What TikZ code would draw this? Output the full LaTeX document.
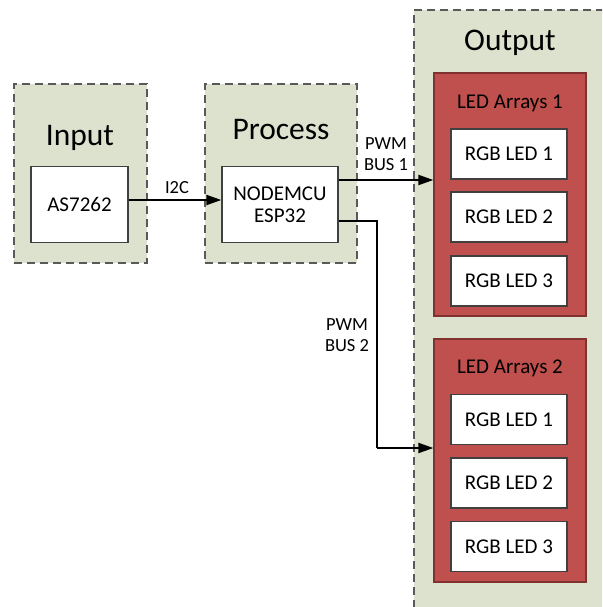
\documentclass[tikz,border=0pt]{standalone}
\usepackage{fontspec}
\setmainfont{Carlito}
\usetikzlibrary{arrows.meta,positioning,calc}
\definecolor{grpfill}{HTML}{DDE2CE}
\definecolor{grpline}{HTML}{595959}
\definecolor{ledred}{HTML}{C0504D}
\definecolor{ledline}{HTML}{7F3230}
\definecolor{boxline}{HTML}{404040}
\tikzset{
  group/.style={draw=grpline, fill=grpfill, line width=1.8pt, dash pattern=on 8pt off 5pt, rectangle, inner sep=0pt},
  grouptitle/.style={font=\fontsize{31.5}{34}\selectfont, inner sep=0pt},
  wbox/.style={draw=boxline, fill=white, line width=1.3pt, rectangle, inner sep=0pt, align=center, font=\fontsize{21}{25}\selectfont},
  redbox/.style={draw=ledline, fill=ledred, line width=1.3pt, rectangle, inner sep=0pt},
  redtitle/.style={font=\fontsize{21}{25}\selectfont, inner sep=0pt},
  lbl/.style={font=\fontsize{18.5}{23}\selectfont, inner sep=0pt, align=center},
  arr/.style={line width=2.1pt, -{Triangle[length=15pt,width=10pt]}},
  wire/.style={line width=2.1pt}
}
\begin{document}
\begin{tikzpicture}[x=1pt,y=-1pt]
\useasboundingbox (0,0) rectangle (602,607);
\clip (0,0) rectangle (602,607);
\fill[white] (0,0) rectangle (602,607);
% groups
\node[group, minimum width=133pt, minimum height=179pt] (gin) at (80.5,173.5) {};
\node[group, minimum width=152pt, minimum height=179pt] (gpr) at (281,173.5) {};
\node[group, minimum width=230pt, minimum height=640pt] (gout) at (529,330) {};
\node[grouptitle] (tin) at (80,138) {Input};
\node[grouptitle] (tpr) at (281,130) {Process};
\node[grouptitle] (tout) at (510,43) {Output};
% input/process boxes
\node[wbox, minimum width=97pt, minimum height=76pt] (as) at (79.5,204.5) {AS7262};
\node[wbox, minimum width=116pt, minimum height=76pt] (nm) at (280,204.5) {NODEMCU\\[-3pt]ESP32};
% LED arrays
\node[redbox, minimum width=152pt, minimum height=243pt] (la1) at (510,194.5) {};
\node[redbox, minimum width=152pt, minimum height=243pt] (la2) at (510,460.5) {};
\node[redtitle] (ta1) at (510,103) {LED Arrays 1};
\node[redtitle] (ta2) at (510,368) {LED Arrays 2};
\node[wbox, minimum width=116pt, minimum height=50pt] (r11) at (509,154) {RGB LED 1};
\node[wbox, minimum width=116pt, minimum height=50pt] (r12) at (509,217) {RGB LED 2};
\node[wbox, minimum width=116pt, minimum height=50pt] (r13) at (509,281) {RGB LED 3};
\node[wbox, minimum width=116pt, minimum height=50pt] (r21) at (509,419.5) {RGB LED 1};
\node[wbox, minimum width=116pt, minimum height=50pt] (r22) at (509,483) {RGB LED 2};
\node[wbox, minimum width=116pt, minimum height=50pt] (r23) at (509,546.5) {RGB LED 3};
% connectors
\coordinate (i1) at ([yshift=4.5pt]as.east);
\draw[arr] (i1) -- (i1 -| nm.west);
\node[lbl] (li2c) at (177,188) {I2C};
\coordinate (p1) at ([yshift=24.5pt]nm.east);
\draw[arr] (p1) -- (p1 -| la1.west);
\node[lbl] (lb1) at (386,154) {PWM\\[-2pt]BUS 1};
\coordinate (p2) at ([yshift=-16.5pt]nm.east);
\coordinate (p3) at (377,448);
\draw[wire] (p2) -| (p3);
\draw[arr] (p3) -- (p3 -| la2.west);
\node[lbl] (lb2) at (347,335) {PWM\\[-2pt]BUS 2};
\end{tikzpicture}
\end{document}
